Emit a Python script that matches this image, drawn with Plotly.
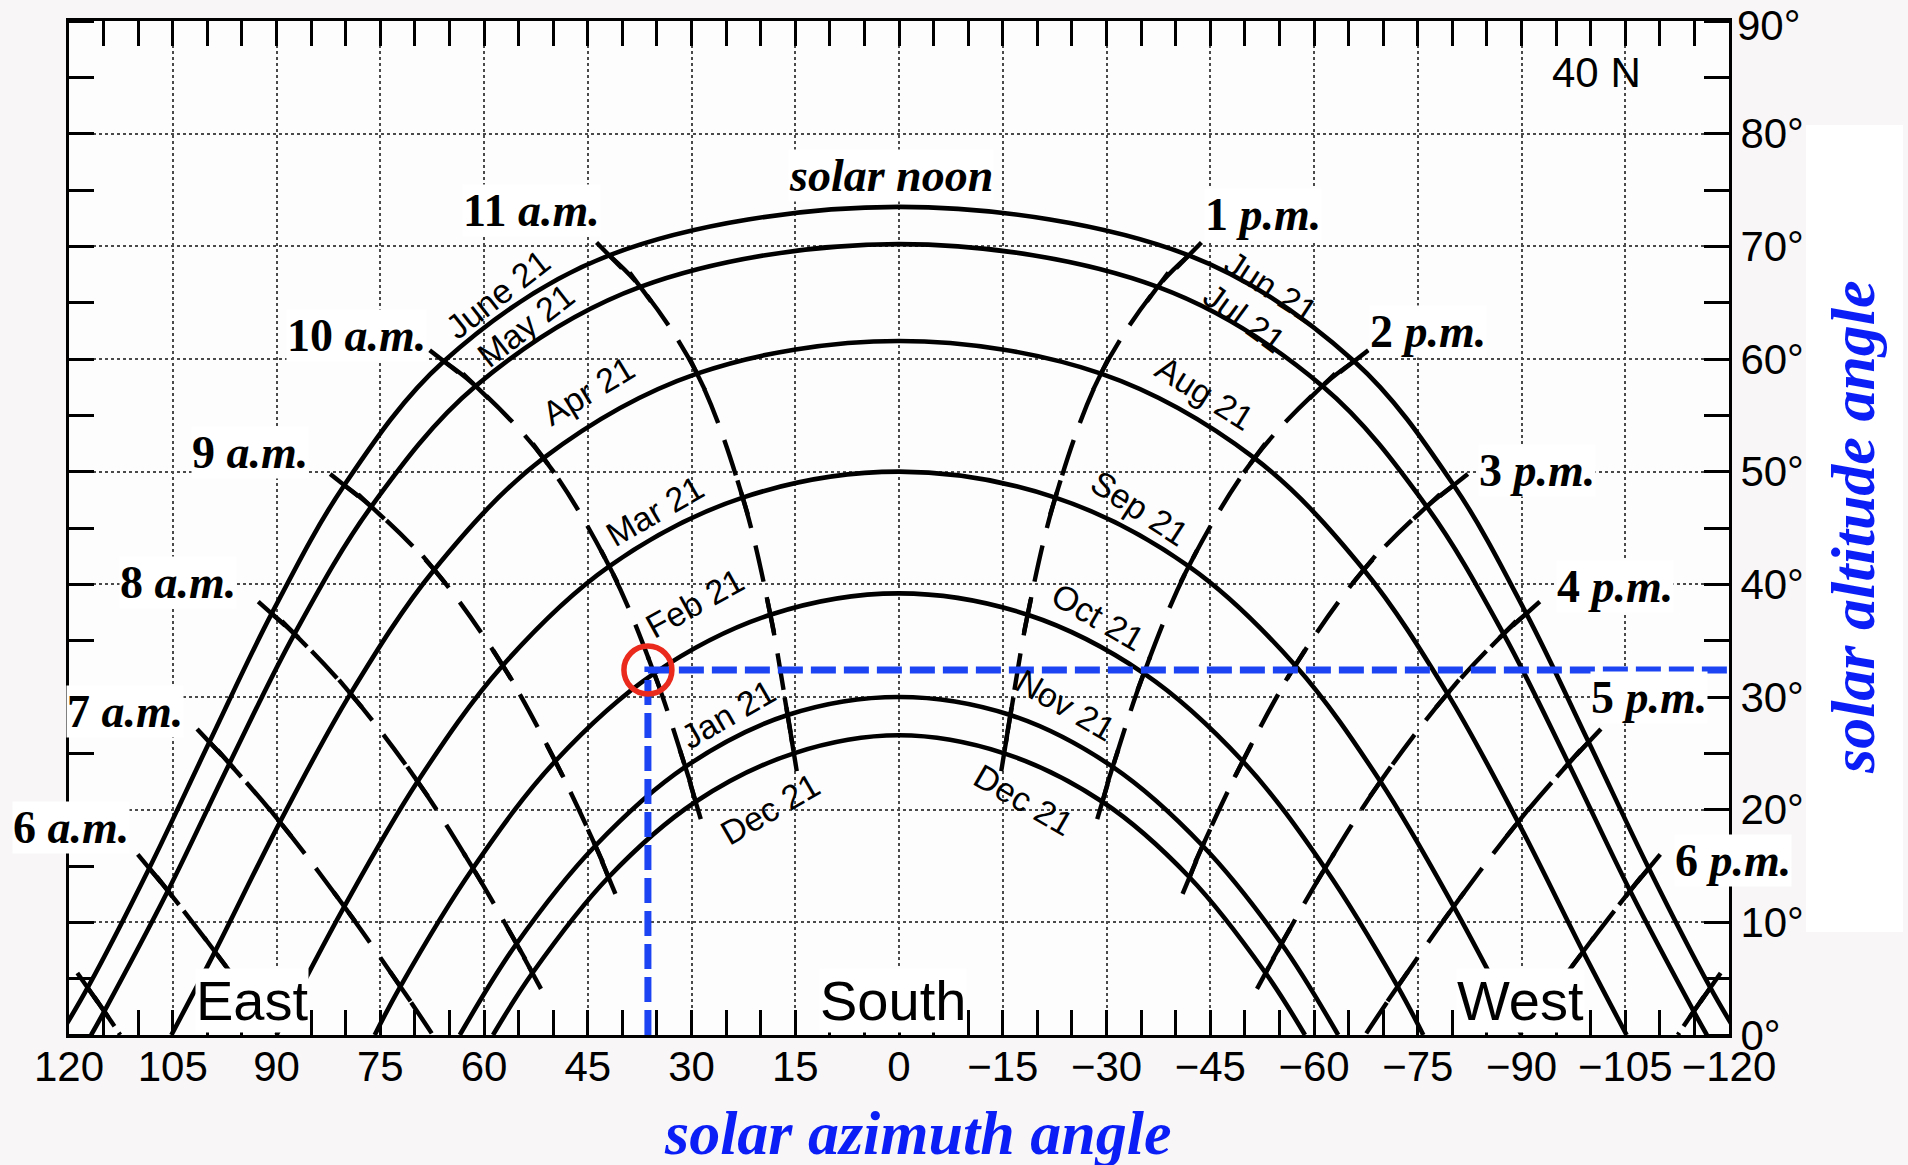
import plotly.graph_objects as go

# ---------------------------------------------------------------------------
# Sun path chart for latitude 40 N.
# Azimuth is measured from south (+ = east / morning, - = west / afternoon).
# Values are sun positions on the 21st of each month at whole solar hours.
# ---------------------------------------------------------------------------
HOURS = [5, 6, 7, 8, 9, 10, 11, 12, 13, 14, 15, 16, 17, 18, 19]

JUN_AZ = [117.3, 108.4, 99.7, 90.7, 80.2, 65.8, 41.9, 0.0, -41.9, -65.8, -80.2, -90.7, -99.7, -108.4, -117.3]
JUN_ALT = [4.2, 14.8, 26.0, 37.4, 48.8, 59.8, 69.2, 73.5, 69.2, 59.8, 48.8, 37.4, 26.0, 14.8, 4.2]

MAY_AZ = [114.9, 105.7, 96.8, 87.4, 76.3, 61.2, 37.4, 0.0, -37.4, -61.2, -76.3, -87.4, -96.8, -105.7, -114.9]
MAY_ALT = [2.1, 12.8, 24.1, 35.6, 46.9, 57.6, 66.4, 70.2, 66.4, 57.6, 46.9, 35.6, 24.1, 12.8, 2.1]

APR_AZ = [None, 98.9, 89.5, 79.3, 67.2, 51.4, 29.2, 0.0, -29.2, -51.4, -67.2, -79.3, -89.5, -98.9, None]
APR_ALT = [None, 7.4, 18.9, 30.3, 41.3, 51.2, 58.7, 61.6, 58.7, 51.2, 41.3, 30.3, 18.9, 7.4, None]

MAR_AZ = [None, None, 80.2, 69.6, 57.3, 41.9, 22.6, 0.0, -22.6, -41.9, -57.3, -69.6, -80.2, None, None]
MAR_ALT = [None, None, 11.4, 22.5, 32.8, 41.6, 47.7, 50.0, 47.7, 41.6, 32.8, 22.5, 11.4, None, None]

FEB_AZ = [None, None, 72.1, 61.6, 49.7, 35.4, 18.6, 0.0, -18.6, -35.4, -49.7, -61.6, -72.1, None, None]
FEB_ALT = [None, None, 4.3, 14.8, 24.3, 32.1, 37.3, 39.2, 37.3, 32.1, 24.3, 14.8, 4.3, None, None]

JAN_AZ = [None, None, None, 55.3, 43.9, 30.9, 16.1, 0.0, -16.1, -30.9, -43.9, -55.3, None, None, None]
JAN_ALT = [None, None, None, 8.1, 16.8, 23.8, 28.4, 30.0, 28.4, 23.8, 16.8, 8.1, None, None, None]

DEC_AZ = [None, None, None, 53.0, 42.0, 29.4, 15.2, 0.0, -15.2, -29.4, -42.0, -53.0, None, None, None]
DEC_ALT = [None, None, None, 5.5, 14.0, 20.7, 25.0, 26.6, 25.0, 20.7, 14.0, 5.5, None, None, None]

# sunrise / sunset azimuths (altitude 0), Jun ... Dec
RISE_AZ = [121.3, 116.8, 105.2, 90.0, 75.8, 63.5, 58.7]
SET_AZ = [-121.3, -116.8, -105.2, -90.0, -75.8, -63.5, -58.7]

# where the early / late hour lines reach the horizon
HORIZON_HOURS = [5, 6, 7, 17, 18, 19]
HORIZON_AZ = [112.6, 90.0, 67.4, -67.4, -90.0, -112.6]

# highlighted reading: Feb 21, 10 a.m.
MARK_AZ = 36.3
MARK_ALT = 32.4

X_TICKS = [120, 105, 90, 75, 60, 45, 30, 15, 0, -15, -30, -45, -60, -75, -90, -105, -120]
X_TICK_TEXT = ["120", "105", "90", "75", "60", "45", "30", "15", "0",
               "\u221215", "\u221230", "\u221245", "\u221260", "\u221275",
               "\u221290", "\u2212105", "\u2212120"]
Y_TICKS = [0, 10, 20, 30, 40, 50, 60, 70, 80]
Y_TICK_TEXT = ["0\u00b0", "10\u00b0", "20\u00b0", "30\u00b0", "40\u00b0", "50\u00b0",
               "60\u00b0", "70\u00b0", "80\u00b0"]
Y_TOP_TEXT = "90\u00b0"

LEFT_DATE_LABELS = ["June 21", "May 21", "Apr 21", "Mar 21", "Feb 21", "Jan 21", "Dec 21"]
RIGHT_DATE_LABELS = ["Jun 21", "Jul 21", "Aug 21", "Sep 21", "Oct 21", "Nov 21", "Dec 21"]
AM_LABELS = ["6", "7", "8", "9", "10", "11"]
PM_LABELS = ["1", "2", "3", "4", "5", "6"]

# ---------------------------------------------------------------------------
# figure geometry
W, H = 1908, 1165
M_L, M_R, M_T, M_B = 69, 179, 21, 130
PLOT_W = W - M_L - M_R
PLOT_H = H - M_T - M_B
SX = PLOT_W / 240.0   # px per degree of azimuth
SY = PLOT_H / 90.0    # px per degree of altitude

INK = "black"
BLUE = "#1d44f2"
SERIF = "Liberation Serif, Times New Roman, serif"
SANS = "Liberation Sans, Arial, sans-serif"

CURVES = [(JUN_AZ, JUN_ALT), (MAY_AZ, MAY_ALT), (APR_AZ, APR_ALT), (MAR_AZ, MAR_ALT),
          (FEB_AZ, FEB_ALT), (JAN_AZ, JAN_ALT), (DEC_AZ, DEC_ALT)]

fig = go.Figure()

# date paths (solid)
for (az, alt), rise, sset in zip(CURVES, RISE_AZ, SET_AZ):
    xs = [rise] + [a for a in az if a is not None] + [sset]
    ys = [0.0] + [h for h in alt if h is not None] + [0.0]
    fig.add_trace(go.Scatter(x=xs, y=ys, mode="lines",
                             line=dict(color=INK, width=4.6, shape="spline"),
                             hoverinfo="skip"))


def to_px(az, alt):
    return ((120.0 - az) * SX, alt * SY)


def to_data(px, py):
    return (120.0 - px / SX, py / SY)


# hour lines (dashed) with short solid marks where they cross each date path
tick_x, tick_y = [], []
for i, hr in enumerate(HOURS):
    if hr == 12:
        continue
    pts = [(az[i], alt[i]) for az, alt in CURVES if az[i] is not None]
    n_dates = len(pts)
    if hr in HORIZON_HOURS:
        pts.append((HORIZON_AZ[HORIZON_HOURS.index(hr)], 0.0))
    fig.add_trace(go.Scatter(x=[p[0] for p in pts], y=[p[1] for p in pts], mode="lines",
                             line=dict(color=INK, width=4.4, dash="37px,18px", shape="spline"),
                             hoverinfo="skip"))
    pix = [to_px(*p) for p in pts]
    for k in range(n_dates):
        a = pix[k - 1] if k > 0 else pix[k]
        b = pix[k + 1] if k < len(pix) - 1 else pix[k]
        dx, dy = b[0] - a[0], b[1] - a[1]
        norm = (dx * dx + dy * dy) ** 0.5 or 1.0
        ux, uy = dx / norm, dy / norm
        cx, cy = pix[k]
        p0 = to_data(cx - 18 * ux, cy - 18 * uy)
        p1 = to_data(cx + 18 * ux, cy + 18 * uy)
        tick_x += [p0[0], p1[0], None]
        tick_y += [p0[1], p1[1], None]

fig.add_trace(go.Scatter(x=tick_x, y=tick_y, mode="lines",
                         line=dict(color=INK, width=4.4), hoverinfo="skip"))

# reading guides for the highlighted point
fig.add_trace(go.Scatter(x=[MARK_AZ, MARK_AZ, -120], y=[0, MARK_ALT, MARK_ALT], mode="lines",
                         line=dict(color=BLUE, width=7, dash="25px,8px"),
                         hoverinfo="skip", cliponaxis=False))
fig.add_trace(go.Scatter(x=[MARK_AZ], y=[MARK_ALT], mode="markers",
                         marker=dict(symbol="circle-open", size=48, color="#ea2a1c",
                                     line=dict(width=5.5, color="#ea2a1c")),
                         hoverinfo="skip"))

# ---------------------------------------------------------------------------
annotations = []


def label(text, x, y, size, font, bg=None, angle=0, xref="x", yref="y", color=INK):
    d = dict(text=text, x=x, y=y, xref=xref, yref=yref, showarrow=False,
             font=dict(family=font, size=size, color=color), textangle=angle,
             xanchor="center", yanchor="middle", borderpad=0)
    if bg:
        d["bgcolor"] = bg
    annotations.append(d)


def px_x(px):
    return (px - M_L) / PLOT_W


def px_y(py):
    return (H - M_B - py) / PLOT_H


am_pos = [(119.7, 18.4), (111.9, 28.7), (104.2, 40.2), (93.8, 51.7), (78.5, 62.1), (53.1, 73.2)]
pm_pos = [(-52.6, 72.8), (-76.5, 62.4), (-92.2, 50.1), (-103.5, 39.8), (-108.4, 30.0)]
for t, (x, y) in zip(AM_LABELS, am_pos):
    label(f"<b>{t} <i>a.m.</i></b>", x, y, 46, SERIF, bg="white")
for t, (x, y) in zip(PM_LABELS[:5], pm_pos):
    label(f"<b>{t} <i>p.m.</i></b>", x, y, 46, SERIF, bg="white")
# the last afternoon label sits across the right frame
label(f"<b>{PM_LABELS[5]} <i>p.m.</i></b>", px_x(1733), px_y(860), 46, SERIF, bg="white",
      xref="paper", yref="paper")

label("<b><i>solar noon</i></b>", 1.2, 76.3, 46, SERIF, bg="white")

left_pos = [(58.0, 65.8, -38), (53.9, 63.0, -38), (45.0, 57.2, -31), (35.3, 46.5, -30),
            (29.5, 38.3, -29), (24.7, 28.5, -30), (18.7, 20.1, -30)]
right_pos = [(-53.8, 66.4, 33), (-49.9, 63.6, 36), (-44.2, 57.0, 32), (-34.8, 46.8, 33),
             (-28.8, 37.1, 30), (-24.1, 29.3, 30), (-18.1, 20.9, 30)]
for t, (x, y, a) in zip(LEFT_DATE_LABELS, left_pos):
    label(t, x, y, 34, SANS, angle=a)
for t, (x, y, a) in zip(RIGHT_DATE_LABELS, right_pos):
    label(t, x, y, 34, SANS, angle=a)

label("40 N", -100.8, 85.4, 42, SANS)
for t, x in (("East", 93.5), ("South", 0.9), ("West", -89.8)):
    annotations.append(dict(text=t, x=x, y=0.15, xref="x", yref="y", showarrow=False,
                            font=dict(family=SANS, size=56, color=INK), bgcolor="white",
                            xanchor="center", yanchor="bottom", borderpad=0))

# top altitude label, nudged down so it stays on the page
annotations.append(dict(text=Y_TOP_TEXT, x=1.0, y=px_y(1), xref="paper", yref="paper",
                        showarrow=False, font=dict(family=SANS, size=42, color=INK),
                        xanchor="left", yanchor="top", xshift=7, borderpad=0))

label("<b><i>solar azimuth angle</i></b>", px_x(918), px_y(1133),
      62, SERIF, xref="paper", yref="paper", color="#0b1ef5")
label("<b><i>solar altitude angle</i></b>", px_x(1853), px_y(527),
      62, SERIF, angle=-90, xref="paper", yref="paper", color="#0b1ef5")

shapes = [dict(type="rect", xref="paper", yref="paper", layer="below",
               x0=px_x(1806), x1=px_x(1903), y0=px_y(932), y1=px_y(125),
               fillcolor="white", line=dict(width=0))]

axis_common = dict(showline=True, linecolor=INK, linewidth=3, mirror="allticks",
                   zeroline=False, showgrid=True, gridcolor="#4a4a4a", gridwidth=1.5,
                   griddash="dot", tickcolor=INK, tickwidth=3, ticklabeloverflow="allow",
                   automargin=False,
                   tickfont=dict(family=SANS, size=42, color=INK))

fig.update_layout(
    width=W, height=H,
    margin=dict(l=M_L, r=M_R, t=M_T, b=M_B, autoexpand=False),
    paper_bgcolor="#f9f6f7",
    plot_bgcolor="#fdfdfd",
    showlegend=False,
    xaxis=dict(range=[120, -120], tickmode="array", tickvals=X_TICKS, ticktext=X_TICK_TEXT,
               ticks="inside", ticklen=25, ticklabelstandoff=-7,
               minor=dict(dtick=5, tick0=0, ticks="inside", ticklen=25, tickwidth=3,
                          tickcolor=INK, showgrid=False),
               **axis_common),
    yaxis=dict(range=[0, 90], side="right", tickmode="array", tickvals=Y_TICKS,
               ticktext=Y_TICK_TEXT, ticks="", ticklabelstandoff=0,
               minor=dict(dtick=5, tick0=0, ticks="inside", ticklen=25, tickwidth=3,
                          tickcolor=INK, showgrid=False),
               **axis_common),
    annotations=annotations,
    shapes=shapes,
)

fig.write_html("out.html")
